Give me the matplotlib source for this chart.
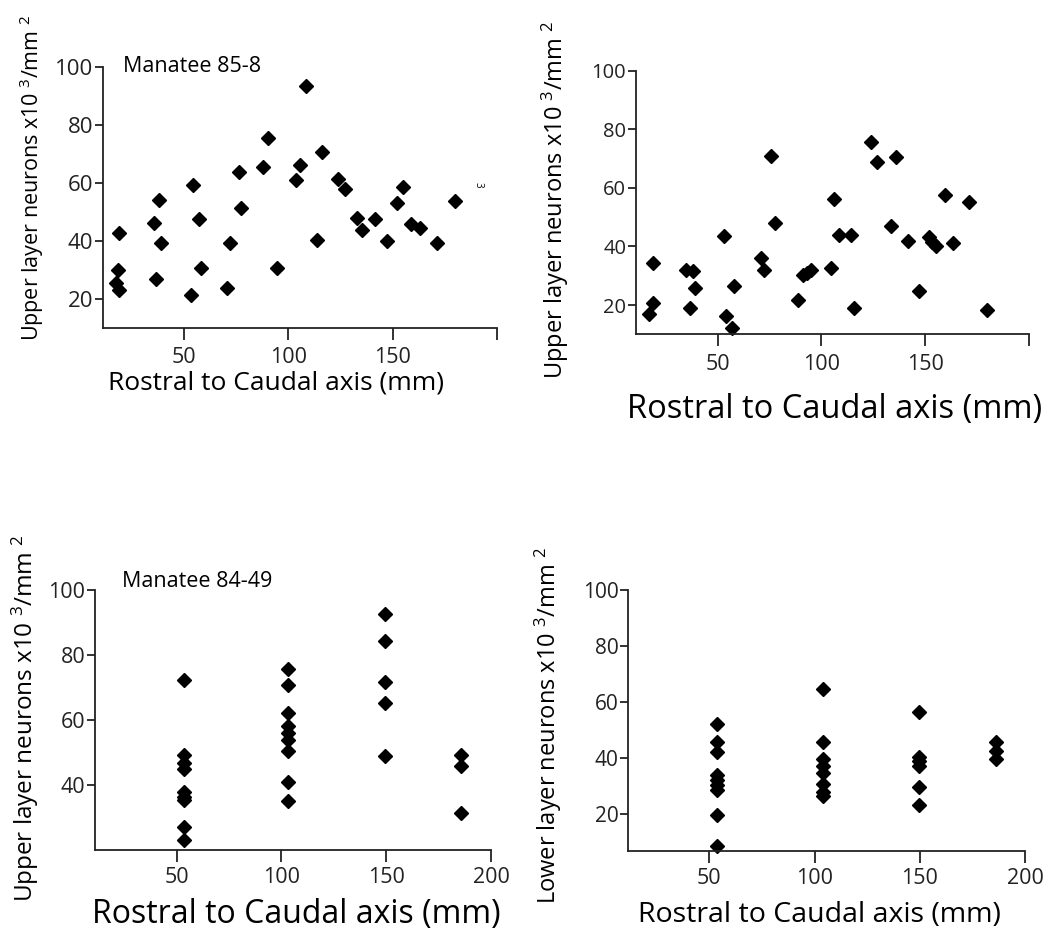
import matplotlib
matplotlib.use("Agg")
import matplotlib.pyplot as plt

plt.rcParams['font.family'] = ['Open Sans', 'DejaVu Sans']
plt.rcParams['mathtext.fontset'] = 'custom'
plt.rcParams['mathtext.rm'] = 'Open Sans'
plt.rcParams['mathtext.it'] = 'Open Sans'

# ---- data ----
# Manatee 85-8, first panel
rc_85_a = [19.0, 18.6, 17.5, 19.0, 38.0, 35.8, 38.8, 36.6, 54.2, 57.2, 58.0, 53.3,
           76.5, 77.1, 72.3, 70.6, 87.9, 90.5, 94.8, 108.7, 105.5, 103.9, 116.0, 113.6,
           124.0, 127.2, 132.8, 135.2, 141.5, 147.1, 151.9, 155.1, 158.8, 163.1, 171.1, 179.8]
dens_85_a = [42.7, 30.0, 25.5, 23.1, 54.2, 46.3, 39.3, 27.0, 59.3, 47.5, 30.6, 21.4,
             63.9, 51.5, 39.3, 23.7, 65.6, 75.6, 30.6, 93.6, 66.2, 61.0, 70.8, 40.4,
             61.6, 58.1, 48.1, 43.9, 47.5, 39.9, 53.1, 58.7, 46.0, 44.6, 39.3, 53.8]

# Manatee 85-8, second panel
rc_85_b = [18.7, 19.0, 17.1, 34.7, 38.3, 39.1, 36.5, 53.0, 58.0, 54.0, 56.7,
           75.5, 77.6, 70.9, 72.3, 88.5, 90.9, 93.0, 94.9, 104.4, 106.0, 108.6, 114.2,
           115.7, 123.7, 126.9, 135.9, 133.3, 141.5, 147.1, 151.8, 153.4, 155.2, 159.3,
           163.2, 170.9, 179.9]
dens_85_b = [34.3, 20.8, 17.1, 32.0, 31.5, 25.7, 19.0, 43.4, 26.4, 16.1, 12.3,
             71.0, 47.9, 36.1, 31.9, 21.8, 30.2, 31.1, 32.0, 32.6, 56.3, 44.0, 44.0,
             18.9, 75.6, 68.7, 70.4, 46.9, 41.8, 24.7, 43.1, 41.4, 40.3, 57.4,
             41.2, 55.3, 18.3]

# Manatee 84-49, upper layer
rc_84_up = [53.5] * 9 + [103.2] * 9 + [149.2] * 5 + [185.8] * 3
dens_84_up = [72.5, 49.4, 46.8, 45.0, 37.9, 36.4, 35.3, 27.1, 23.2,
              75.7, 70.8, 62.1, 58.1, 56.1, 54.0, 50.6, 40.9, 35.2,
              92.7, 84.4, 71.9, 65.3, 49.1,
              49.4, 45.8, 31.4]

# Manatee 84-49, lower layer
rc_84_low = [53.5] * 9 + [103.8] * 8 + [149.5] * 6 + [186.4] * 3
dens_84_low = [52.3, 45.7, 42.1, 34.0, 32.2, 30.5, 28.6, 19.6, 8.6,
               64.8, 45.7, 39.9, 37.3, 34.9, 30.8, 28.1, 26.6,
               56.4, 40.6, 39.1, 37.3, 29.8, 23.2,
               45.7, 42.7, 39.7]

xlab = 'Rostral to Caudal axis (mm)'
ylab_up = 'Upper layer neurons x10 $^3$/mm $^2$'
ylab_low = 'Lower layer neurons x10 $^3$/mm $^2$'

fig = plt.figure(figsize=(10.5, 9.46), dpi=100)

# each panel was scaled a bit differently in the original, so sizes vary per panel
panels = [
    dict(rect=[0.0981, 0.6533, 0.3752, 0.2754], x=rc_85_a, y=dens_85_a, ymin=10,
         yticks=[20, 40, 60, 80, 100], xtl=['50', '100', '150', ''], xmin=11.2,
         ylab=ylab_up, xls=19, xlp=(0.439, -0.211), yls=15.5, ylp=(-0.180, 0.576),
         yts=16, xpad=5),
    dict(rect=[0.6057, 0.6466, 0.3743, 0.2787], x=rc_85_b, y=dens_85_b, ymin=10,
         yticks=[20, 40, 60, 80, 100], xtl=['50', '100', '150', ''], xmin=10.6,
         ylab=ylab_up, xls=23.5, xlp=(0.506, -0.287), yls=17, ylp=(-0.206, 0.509),
         yts=14.5, xpad=6),
    dict(rect=[0.0905, 0.1015, 0.3771, 0.2743], x=rc_84_up, y=dens_84_up, ymin=20,
         yticks=[40, 60, 80, 100], xtl=['50', '100', '150', '200'], xmin=11,
         ylab=ylab_up, xls=23, xlp=(0.508, -0.250), yls=17.5, ylp=(-0.177, 0.509),
         yts=15.5, xpad=4),
    dict(rect=[0.5984, 0.1007, 0.3778, 0.2756], x=rc_84_low, y=dens_84_low, ymin=7,
         yticks=[20, 40, 60, 80, 100], xtl=['50', '100', '150', '200'], xmin=11.5,
         ylab=ylab_low, xls=20.5, xlp=(0.483, -0.247), yls=17, ylp=(-0.202, 0.482),
         yts=15, xpad=4),
]

axes = []
for p in panels:
    ax = fig.add_axes(p['rect'])
    ax.plot(p['x'], p['y'], linestyle='none', marker='D', markersize=7,
            color='black', clip_on=False)
    ax.set_xlim(p['xmin'], 200)
    ax.set_ylim(p['ymin'], 100)
    ax.set_xticks([50, 100, 150, 200])
    ax.set_xticklabels(p['xtl'])
    ax.set_yticks(p['yticks'])
    for s in ['top', 'right']:
        ax.spines[s].set_visible(False)
    for s in ['left', 'bottom']:
        ax.spines[s].set_linewidth(1.3)
        ax.spines[s].set_color('#222222')
    ax.tick_params(axis='x', direction='out', length=8.5, width=1.3, pad=p['xpad'],
                   labelsize=15.5, colors='#222222')
    ax.tick_params(axis='y', direction='out', length=6, width=1.3, pad=1,
                   labelsize=p['yts'], colors='#222222')
    ax.set_xlabel(xlab, fontsize=p['xls'], va='center')
    ax.xaxis.set_label_coords(*p['xlp'])
    ax.set_ylabel(p['ylab'], fontsize=p['yls'], va='center')
    ax.yaxis.set_label_coords(*p['ylp'])
    axes.append(ax)

axes[0].text(20.8, 100.3, 'Manatee 85-8', fontsize=15.5, va='center', ha='left')
axes[0].text(190.7, 59.3, '3', fontsize=7, rotation=-90, va='center', ha='center')
axes[2].text(23.8, 102.7, 'Manatee 84-49', fontsize=15.5, va='center', ha='left',
             clip_on=False)

fig.savefig('out.png', dpi=100)
